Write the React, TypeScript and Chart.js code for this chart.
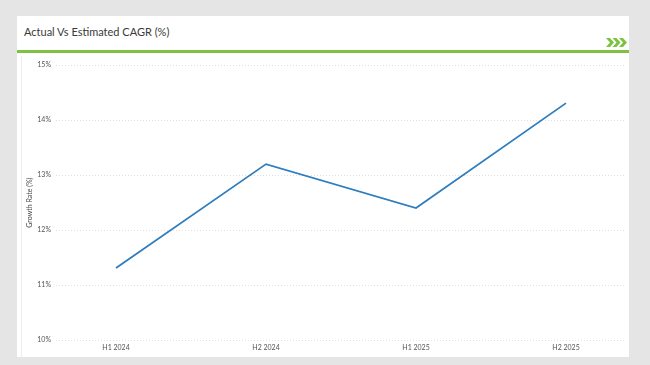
import React, { useEffect, useRef } from "react";
import { Chart, registerables } from "chart.js";

Chart.register(...registerables);

const categories = ["H1 2024", "H2 2024", "H1 2025", "H2 2025"];
const growthRate = [11.31, 13.2, 12.4, 14.31];
const yTicks = [10, 11, 12, 13, 14, 15];
const titleText = "Actual Vs Estimated CAGR (%)";
const yAxisTitle = "Growth Rate (%)";

const FONT = "Lato, 'Open Sans', sans-serif";

export default function App() {
  const ref = useRef<HTMLCanvasElement | null>(null);

  useEffect(() => {
    if (!ref.current) return;
    const chart = new Chart(ref.current, {
      type: "line",
      data: {
        datasets: [
          {
            data: growthRate.map((v, i) => ({ x: i, y: v })),
            borderColor: "#2e7dbf",
            borderWidth: 1.8,
            pointRadius: 0,
            tension: 0,
            fill: false,
          },
        ],
      },
      options: {
        animation: false,
        responsive: false,
        maintainAspectRatio: false,
        layout: { padding: { top: 9, right: 4, left: 0, bottom: 0 } },
        plugins: { legend: { display: false }, tooltip: { enabled: false } },
        scales: {
          x: {
            type: "linear",
            min: -0.4,
            max: 3.4,
            afterBuildTicks: (axis: any) => {
              axis.ticks = categories.map((_, i) => ({ value: i }));
            },
            afterFit: (axis: any) => {
              axis.height = 17;
            },
            grid: { display: false, drawTicks: false },
            border: { display: false },
            ticks: {
              padding: 4,
              color: "#555",
              font: { family: FONT, size: 7 },
              maxRotation: 0,
              autoSkip: false,
              callback: (v: any) => categories[v as number] ?? "",
            },
          },
          y: {
            min: yTicks[0],
            max: yTicks[yTicks.length - 1],
            afterBuildTicks: (axis: any) => {
              axis.ticks = yTicks.map((v) => ({ value: v }));
            },
            afterFit: (axis: any) => {
              axis.width = 34;
            },
            grid: {
              color: "#e0e0e0",
              lineWidth: 1,
              drawTicks: false,
            },
            border: { display: false, dash: [1, 2] },
            ticks: {
              padding: 5,
              color: "#555",
              font: { family: FONT, size: 7 },
              callback: (v: any) => v + "%",
            },
            title: {
              display: true,
              text: yAxisTitle,
              color: "#444",
              font: { family: FONT, size: 7 },
              padding: { top: 4, bottom: 0 },
            },
          },
        },
      },
    } as any);
    return () => chart.destroy();
  }, []);

  return (
    <div
      style={{
        position: "fixed",
        left: 0,
        top: 0,
        width: 650,
        height: 365,
        background: "#e5e5e5",
        overflow: "hidden",
      }}
    >
      <div
        style={{
          position: "absolute",
          left: 17,
          top: 16,
          width: 612,
          height: 341,
          background: "#ffffff",
        }}
      />
      <div
        style={{
          position: "absolute",
          left: 24,
          top: 24,
          fontFamily: FONT,
          fontSize: 11,
          color: "#3a3a3a",
          whiteSpace: "nowrap",
          lineHeight: "16px",
        }}
      >
        {titleText}
      </div>
      <svg
        style={{ position: "absolute", left: 606, top: 38 }}
        width={22}
        height={9}
        viewBox="0 0 22 9"
      >
        {[0, 6.5, 13].map((dx) => (
          <polygon
            key={dx}
            points={`${dx},0 ${dx + 4},0 ${dx + 8},4.5 ${dx + 4},9 ${dx},9 ${dx + 4},4.5`}
            fill="#7dc242"
          />
        ))}
      </svg>
      <div
        style={{
          position: "absolute",
          left: 17,
          top: 50,
          width: 612,
          height: 3,
          background: "#7dc242",
        }}
      />
      <div
        style={{
          position: "absolute",
          left: 21,
          top: 56,
          width: 608,
          height: 301,
          background: "#fff",
          borderLeft: "1px solid #eeeeee",
          boxSizing: "border-box",
        }}
      >
        <canvas ref={ref} width={608} height={301} style={{ display: "block" }} />
      </div>
    </div>
  );
}
